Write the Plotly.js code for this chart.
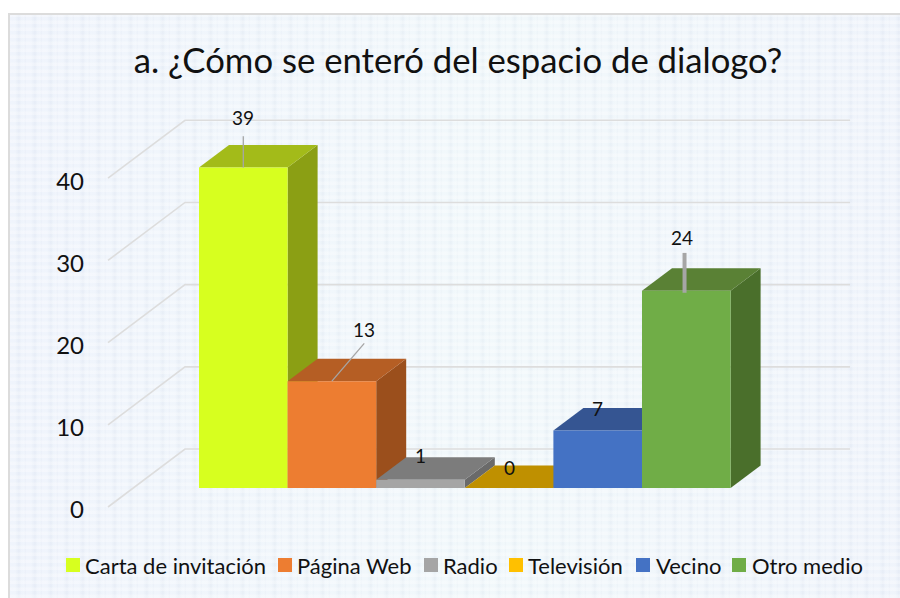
<!DOCTYPE html>
<html>
<head>
<meta charset="utf-8">
<script src="https://cdn.plot.ly/plotly-3.0.1.min.js"></script>
<style>
html,body{margin:0;padding:0;background:#fff;width:900px;height:598px;overflow:hidden}
#bg{position:absolute;left:8px;top:13px;width:892px;height:585px;box-sizing:border-box;border-left:2px solid #dcdcdc;border-top:2px solid #dcdcdc;
background-color:#eff4fb;
background-image:
 repeating-linear-gradient(0deg,rgba(255,255,255,.30) 0px,rgba(255,255,255,.30) 3px,rgba(255,255,255,0) 4px,rgba(255,255,255,0) 7px),
 linear-gradient(90deg,rgba(235,240,252,.45) 0%,rgba(240,250,250,.45) 55%,rgba(235,240,250,.45) 100%),
 repeating-linear-gradient(90deg,#f3f7fc 0px,#f3f7fc 5px,#e7edf5 8px,#e3e9f2 9px,#f0f5fb 11px,#f4f8fc 14px,#e9eef6 16px);}
#chart{position:absolute;left:0;top:0;width:900px;height:598px}
</style>
</head>
<body>
<div id="bg"></div>
<div id="chart"></div>
<script>
var categories = ["Carta de invitación","Página Web","Radio","Televisión","Vecino","Otro medio"];
var values = [39,13,1,0,7,24];
var frontColors = ["#d7ff1f","#ed7d31","#a5a5a5","#ffc000","#4472c4","#70ad47"];
var topColors = ["#a3bb19","#b55e24","#7c7c7c","#bf9000","#355592","#5a8135"];
var sideColors = ["#8b9f14","#9b4f1c","#6a6a6a","#a37b00","#2d4a80","#4a6f2b"];
var gridValues = [0,10,20,30,40];
var title = "a. ¿Cómo se enteró del espacio de dialogo?";

var labelShiftX = [0,32,0,0,0,-4];
var labelShiftY = [50,52,24,21,22,53];
var leaderX0 = [0,0,null,null,null,-0.02];
var leaderDx = [0,0.365,null,null,null,0];
var leaderY0 = [0,0,null,null,null,-0.25];
var leaderDy = [3.8,4.6,null,null,null,4.85];
var leaderWidth = [1.3,1.3,0,0,0,4];

var legendSwatchLeft = [66,278,424,509,636,732];
var legendTextLeft = [85,297,443,528,656,752];
var legendCenterY = 565;

var PXX = 88.6, PXY = 8.22;
var H = 598, W = 900, mL = 90, mR = 30, mT = 100, mB = 68;
var x0 = -0.5 - (199 - mL) / PXX, x1 = x0 + (W - mL - mR) / PXX;
function yr(zeroPx){ return [(zeroPx - (H - mB)) / PXY, (zeroPx - mT) / PXY]; }

var depthX = 30 / PXX, depthY = 22.5 / PXY;
var wallX = -1.527, wallDX = 0.869, wallDY = 7.05, wallR = 6.848;

var traces = [];
gridValues.forEach(function(v){
  traces.push({type:"scatter",mode:"lines",x:[wallX,wallX+wallDX,wallR],y:[v,v+wallDY,v+wallDY],
    line:{color:"#dddddd",width:1.6},xaxis:"x",yaxis:"y",showlegend:false,hoverinfo:"skip"});
});
values.forEach(function(v,i){
  var r = i+0.5, l = i-0.5;
  traces.push({type:"scatter",mode:"lines",fill:"toself",fillcolor:sideColors[i],line:{width:0,color:sideColors[i]},
    x:[r,r+depthX,r+depthX,r,r],y:[0,depthY,v+depthY,v,0],xaxis:"x",yaxis:"y2",showlegend:false,hoverinfo:"skip"});
  traces.push({type:"scatter",mode:"lines",fill:"toself",fillcolor:topColors[i],line:{width:0,color:topColors[i]},
    x:[l,r,r+depthX,l+depthX,l],y:[v,v,v+depthY,v+depthY,v],xaxis:"x",yaxis:"y2",showlegend:false,hoverinfo:"skip"});
});
values.forEach(function(v,i){
  traces.push({type:"bar",name:categories[i],x:[i],y:[v],width:1,marker:{color:frontColors[i],line:{width:0}},
    xaxis:"x",yaxis:"y3",hoverinfo:"name+y"});
});
values.forEach(function(v,i){
  if(leaderDy[i]===null) return;
  var xs = i+leaderX0[i], ys = v+leaderY0[i];
  traces.push({type:"scatter",mode:"lines",x:[xs,xs+leaderDx[i]],y:[ys,ys+leaderDy[i]],
    line:{color:"#a6a6a6",width:leaderWidth[i]},xaxis:"x",yaxis:"y3",showlegend:false,hoverinfo:"skip"});
});

var annotations = values.map(function(v,i){
  return {x:i,y:v,xref:"x",yref:"y3",text:String(v),showarrow:false,xanchor:"center",yanchor:"middle",
    xshift:labelShiftX[i],yshift:labelShiftY[i],font:{family:"Lato, sans-serif",size:19,color:"#111"}};
});

var hidden = {visible:false,showgrid:false,zeroline:false,overlaying:"y",fixedrange:true};
var layout = {
  width:W,height:H,margin:{l:mL,r:mR,t:mT,b:mB,pad:0},
  paper_bgcolor:"rgba(0,0,0,0)",plot_bgcolor:"rgba(0,0,0,0)",
  barmode:"overlay",
  title:{text:title,x:458/W,xanchor:"center",y:1-61/H,yanchor:"middle",
    font:{family:"Lato, sans-serif",size:34.7,color:"#111"}},
  xaxis:{range:[x0,x1],visible:false,showgrid:false,zeroline:false,fixedrange:true},
  yaxis:{range:yr(507),tickmode:"array",tickvals:gridValues,ticktext:gridValues.map(String),showgrid:false,zeroline:false,
    showline:false,ticks:"",ticklabelstandoff:5,ticklabelshift:3,tickfont:{family:"Lato, sans-serif",size:24,color:"#111"},fixedrange:true},
  yaxis2:Object.assign({range:yr(488)},hidden),
  yaxis3:Object.assign({range:yr(488)},hidden),
  showlegend:true,
  legend:{orientation:"h",x:0.1,xanchor:"left",y:0.5,yanchor:"middle",
    font:{family:"Lato, sans-serif",size:22,color:"#111"},bgcolor:"rgba(0,0,0,0)",traceorder:"normal"},
  annotations:annotations
};
Plotly.newPlot("chart",traces,layout,{displayModeBar:false}).then(function(gd){
  // Lay the native legend entries out on one row with tighter swatch spacing.
  var root = document.querySelector("#chart .legend");
  root.setAttribute("transform","translate(0,0)");
  var box = root.querySelector(".scrollbox");
  box.setAttribute("transform","translate(0,0)");
  box.removeAttribute("clip-path");
  box.style.clipPath = "none";
  var items = root.querySelectorAll(".traces");
  items.forEach(function(el,i){
    var tx = legendSwatchLeft[i] + 7 - 20;
    el.setAttribute("transform","translate("+tx+","+legendCenterY+")");
    var t = el.querySelector(".legendtext");
    t.setAttribute("x",legendTextLeft[i]-tx);
    var p = el.querySelector(".legendpoints path");
    if(p) p.setAttribute("d","M7,7H-7V-7H7z");
  });
});
</script>
</body>
</html>
